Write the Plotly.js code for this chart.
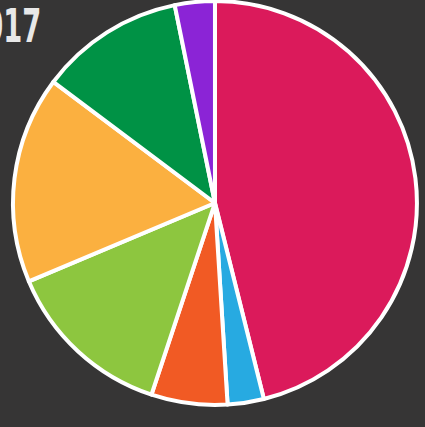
<!DOCTYPE html>
<html>
<head>
<meta charset="utf-8">
<script src="https://cdn.plot.ly/plotly-3.0.1.min.js"></script>
<style>
  html, body { margin: 0; padding: 0; background: #363535; }
  #chart { width: 425px; height: 427px; }
</style>
</head>
<body>
<div id="chart"></div>
<script>
// Data (shares in %)
const titleText = "2017";
const categories = ["Category 1", "Category 2", "Category 3", "Category 4", "Category 5", "Category 6", "Category 7"];
const shares = [46.2, 2.9, 6.1, 13.6, 16.6, 11.6, 3.2];
const sliceColors = ["#DB1A5B", "#27AAE1", "#F15A24", "#8DC63F", "#FBB040", "#009245", "#8B24D6"];

const trace = {
  type: "pie",
  labels: categories,
  values: shares,
  sort: false,
  direction: "clockwise",
  rotation: 0,
  textinfo: "none",
  hoverinfo: "label+percent",
  marker: { colors: sliceColors, line: { color: "#FFFFFF", width: 4 } },
  domain: { x: [0.0306, 0.981], y: [0.0515, 0.9977] },
  showlegend: false
};

const layout = {
  width: 425,
  height: 427,
  margin: { l: 0, r: 0, t: 0, b: 0 },
  paper_bgcolor: "#363535",
  plot_bgcolor: "#363535",
  showlegend: false,
  annotations: [{
    text: "<b>" + titleText + "</b>",
    xref: "paper", yref: "paper",
    x: 43 / 425, y: 1 - 26.5 / 427,
    xanchor: "right", yanchor: "middle",
    showarrow: false,
    font: { family: "Liberation Sans Narrow, DejaVu Sans Condensed, sans-serif", size: 46, color: "#E8E8E8" }
  }]
};

Plotly.newPlot("chart", [trace], layout, { staticPlot: true, displayModeBar: false }).then(function () {
  const t = document.querySelector(".annotation-text");
  if (t) {
    const b = t.getBBox();
    const rx = b.x + b.width;
    t.setAttribute("transform", "translate(" + rx + ",0) scale(0.66,1) translate(" + (-rx) + ",0)");
  }
});
</script>
</body>
</html>
